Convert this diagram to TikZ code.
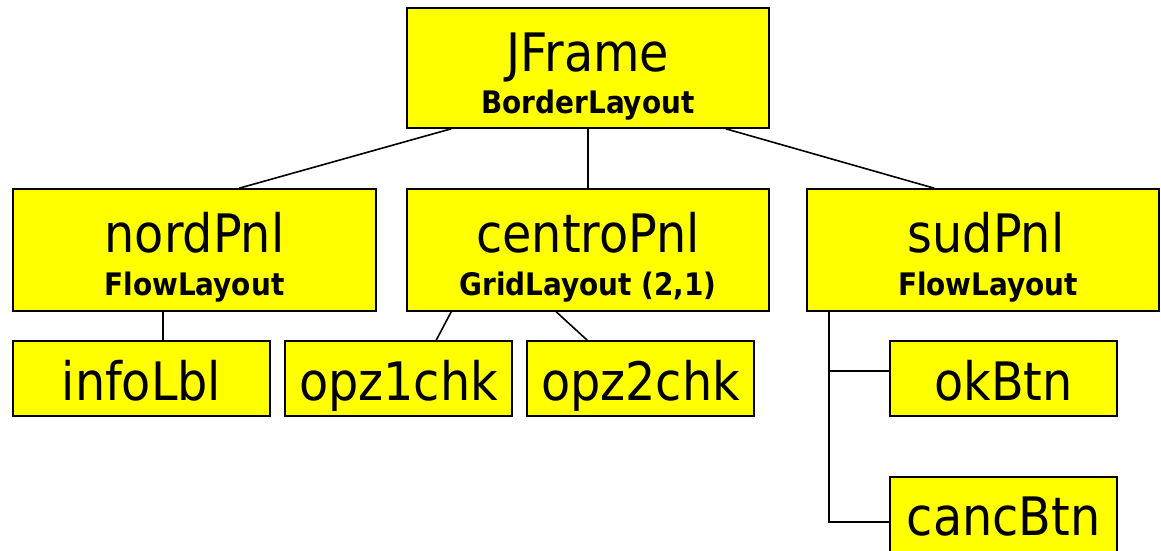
\documentclass[tikz,border=0pt]{standalone}
\usepackage{fontspec}
\setmainfont{DejaVu Sans Condensed}
\definecolor{boxyellow}{RGB}{255,255,0}
\begin{document}
\begin{tikzpicture}[x=1pt,y=-1pt,
  box/.style={draw=black, fill=boxyellow, line width=1.6pt, inner sep=0pt},
  conn/.style={draw=black, line width=1.6pt},
  main/.style={anchor=base, inner sep=0pt, font=\fontsize{53}{60}\selectfont},
  sub/.style={anchor=base, inner sep=0pt, font=\fontsize{31}{35}\selectfont\bfseries}]
\useasboundingbox (0,0) rectangle (1161,551);

% containers
\node[box, minimum width=362pt, minimum height=120pt] (jframe) at (588,68) {};
\node[box, minimum width=363pt, minimum height=122pt] (nord) at (194.5,250) {};
\node[box, minimum width=362pt, minimum height=122pt] (centro) at (588,250) {};
\node[box, minimum width=352pt, minimum height=122pt] (sud) at (983,250) {};

% components
\node[box, minimum width=257pt, minimum height=75pt] (info) at (141.5,378.5) {};
\node[box, minimum width=227pt, minimum height=75pt] (opz1) at (398.5,378.5) {};
\node[box, minimum width=227pt, minimum height=75pt] (opz2) at (640.5,378.5) {};
\node[box, minimum width=227pt, minimum height=75pt] (ok) at (1003.5,378.5) {};
\node[box, minimum width=227pt, minimum height=90pt] (canc) at (1003.5,522) {};

% labels
\node[main] (tjframe) at (588,71) {JFrame};
\node[sub]  (ljframe) at (588,113) {BorderLayout};
\node[main] (tnord) at (194.5,252) {nordPnl};
\node[sub]  (lnord) at (194.5,295) {FlowLayout};
\node[main] (tcentro) at (588,252) {centroPnl};
\node[sub]  (lcentro) at (588,295) {GridLayout (2,1)};
\node[main] (tsud) at (986,252) {sudPnl};
\node[sub]  (lsud) at (988,295) {FlowLayout};
\node[main] (tinfo) at (141.5,400) {infoLbl};
\node[main] (topz1) at (398.5,400) {opz1chk};
\node[main] (topz2) at (640.5,400) {opz2chk};
\node[main] (tok) at (1003.5,400) {okBtn};
\node[main] (tcanc) at (1003.5,535) {cancBtn};

% containment links
\draw[conn] ([xshift=45pt]jframe.south west) -- ([xshift=227pt]nord.north west);
\draw[conn] (jframe.south) -- (centro.north);
\draw[conn] ([xshift=-44pt]jframe.south east) -- ([xshift=128pt]sud.north west);
\draw[conn] ([xshift=151pt]nord.south west) -- ([xshift=151pt]info.north west);
\draw[conn] ([xshift=45pt]centro.south west) -- ([xshift=152pt]opz1.north west);
\draw[conn] ([xshift=150pt]centro.south west) -- ([xshift=61pt]opz2.north west);
\draw[conn] ([xshift=23pt]sud.south west) |- ([yshift=7.5pt]ok.west);
\draw[conn] ([xshift=23pt]sud.south west) |- (canc.west);
\end{tikzpicture}
\end{document}
